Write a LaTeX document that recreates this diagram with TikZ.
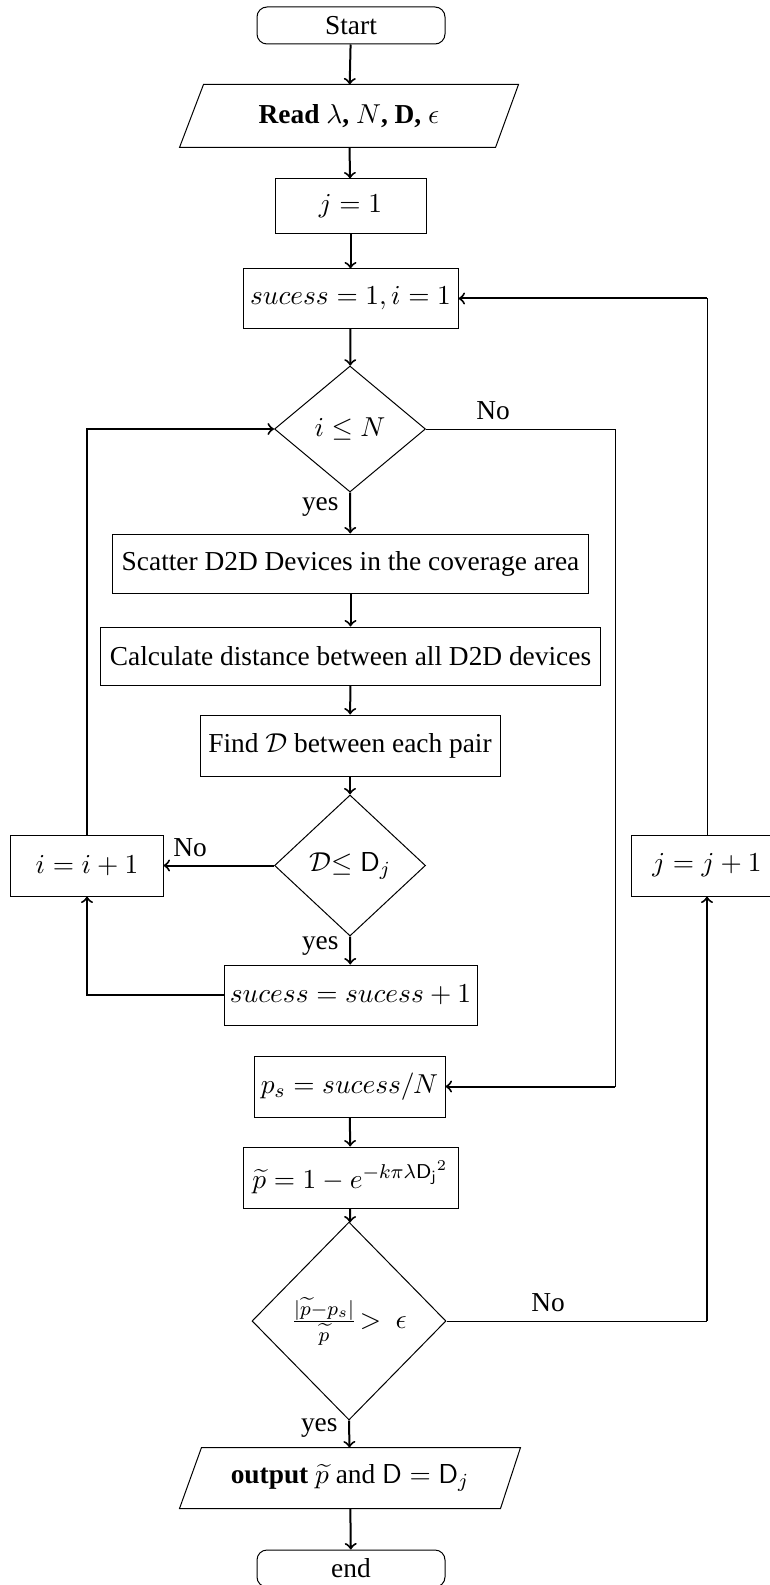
\documentclass[tikz,border=0pt]{standalone}
\usepackage[no-math]{fontspec}
\setmainfont{Liberation Serif}
\usetikzlibrary{shapes.geometric}

\tikzset{
  box/.style={draw, thin, rectangle, inner sep=1pt, align=center},
  term/.style={box, rounded corners=4pt},
  dec/.style={draw, thin, diamond, inner sep=0pt, align=center},
  io/.style={rectangle, inner sep=1pt, align=center},
  flow/.style={thick, ->},
  wire/.style={thin},
  lbl/.style={inner sep=1pt}
}

\begin{document}
\begin{tikzpicture}[x=0.4pt, y=-0.4pt, font=\fontsize{10.95pt}{13.6pt}\selectfont]
\useasboundingbox (0,0) rectangle (770,1585);

% main column
\node[term, minimum width=75.2pt, minimum height=14.8pt] (start) at (351,25.5) {Start};
\node[io, minimum width=135.2pt, minimum height=24.8pt] (read) at (349,116)
  {\textbf{Read} $\lambda$\textbf{,} $N$\textbf{, D,} $\epsilon$};
\draw[thin] ([xshift=9.6pt]read.north west) -- (read.north east)
  -- ([xshift=-9.2pt]read.south east) -- (read.south west) -- cycle;
\node[box, minimum width=60.4pt, minimum height=22pt] (j1) at (350.5,206.5) {$j=1$};
\node[box, minimum width=86pt, minimum height=23.6pt] (suc) at (350.5,298.5) {$sucess=1, i=1$};
\node[dec, minimum width=60.4pt, minimum height=50.4pt] (d1) at (350,429) {$i\leq N$};
\node[box, minimum width=190pt, minimum height=23.6pt] (scat) at (350.5,563.5)
  {Scatter D2D Devices in the coverage area};
\node[box, minimum width=199.6pt, minimum height=23.2pt] (calc) at (350.5,656)
  {Calculate distance between all D2D devices};
\node[box, minimum width=120pt, minimum height=24.4pt] (find) at (350,745.5)
  {Find $\mathcal{D}$ between each pair};
\node[dec, minimum width=60.4pt, minimum height=56.4pt] (d2) at (350,865.5)
  {$\mathcal{D}$$\leq \mathsf{D}_j$};
\node[box, minimum width=60.8pt, minimum height=24.4pt] (ii) at (87,865.5) {$i=i+1$};
\node[box, minimum width=60.8pt, minimum height=24.4pt] (jj) at (707,865.5) {$j=j+1$};
\node[box, minimum width=101.2pt, minimum height=24pt] (suc1) at (350.5,995)
  {$sucess=sucess+1$};
\node[box, minimum width=76.4pt, minimum height=24.4pt] (ps) at (349.5,1086.5)
  {$p_s=sucess/N$};
\node[box, minimum width=86pt, minimum height=24.4pt] (pt) at (350.5,1177.5)
  {$\widetilde{p}=1-e^{-k\pi\lambda\mathsf{D_j}^2}$};
\node[dec, minimum width=77.6pt, minimum height=79.2pt] (d3) at (349,1321)
  {$\frac{|\widetilde{p}-p_s|}{\widetilde{p}}\!>\ \epsilon$};
\node[io, minimum width=136pt, minimum height=24pt] (out) at (350,1478)
  {\textbf{output} $\widetilde{p}$ and $\mathsf{D}=\mathsf{D}_j$};
\draw[thin] ([xshift=8.8pt]out.north west) -- (out.north east)
  -- ([xshift=-8pt]out.south east) -- (out.south west) -- cycle;
\node[term, minimum width=75.2pt, minimum height=14.8pt] (end) at (351,1568.5) {end};

% straight flow
\draw[flow] (start) -- (read);
\draw[flow] (read) -- (j1);
\draw[flow] (j1) -- (suc);
\draw[flow] (suc) -- (d1);
\draw[flow] (d1.south) -- (scat);
\draw[flow] (scat) -- (calc);
\draw[flow] (calc) -- (find);
\draw[flow] (find) -- (d2);
\draw[flow] (d2.south) -- (suc1);
\draw[flow] (ps) -- (pt);
\draw[flow] (pt) -- (d3);
\draw[flow] (d3.south) -- (out);
\draw[flow] (out) -- (end);

% inner loop
\draw[flow] (d2.west) -- (ii.east);
\draw[flow] (suc1.west) -| (ii.south);
\draw[flow] (ii.north) |- (d1.west);

% exit of inner loop
\coordinate (r1) at (615,429);
\coordinate (r2) at (r1 |- ps.east);
\draw[wire] (d1.east) -- (r1) -- (r2);
\draw[flow] (r2) -- (ps.east);

% outer loop
\coordinate (r3) at (jj.south |- d3.east);
\draw[wire] (d3.east) -- (r3);
\draw[flow] (r3) -- (jj.south);
\coordinate (r4) at (jj.north |- suc.east);
\draw[wire] (jj.north) -- (r4);
\draw[flow] (r4) -- (suc.east);

% branch labels
\node[above] (no1) at (493,429) {No};
\node[above] (no2) at (190,865.5) {No};
\node[above] (no3) at (548,1321) {No};
\node[lbl, anchor=north east] (yes1) at ([xshift=-3.4pt,yshift=-1pt]d1.south) {yes};
\node[lbl, anchor=north east] (yes2) at ([xshift=-3.4pt,yshift=1pt]d2.south) {yes};
\node[lbl, anchor=north east] (yes3) at ([xshift=-3.4pt,yshift=2pt]d3.south) {yes};
\end{tikzpicture}
\end{document}
